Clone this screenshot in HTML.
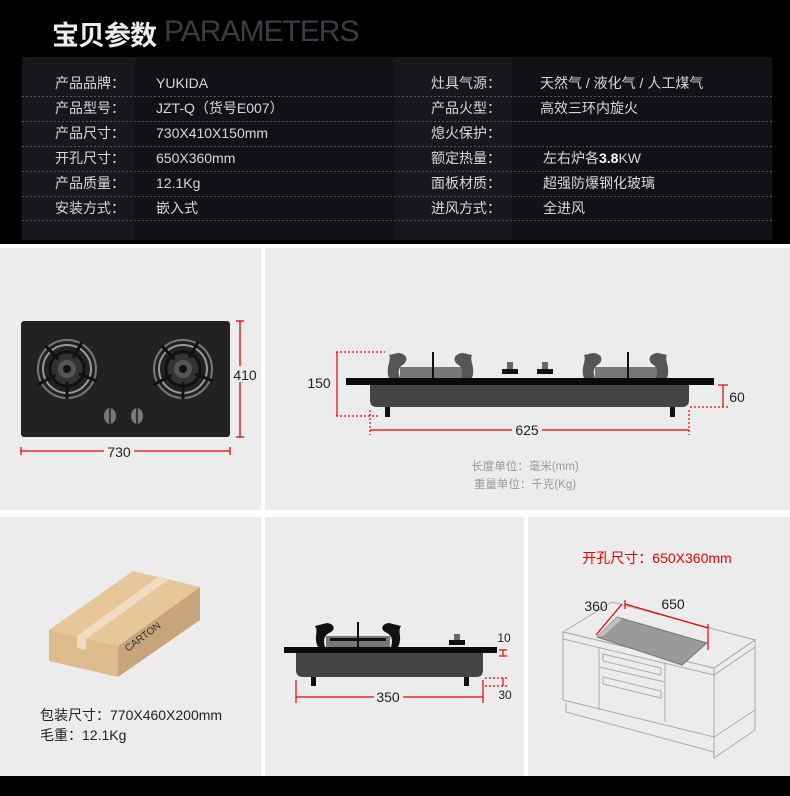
<!DOCTYPE html>
<html><head><meta charset="utf-8"><style>
*{margin:0;padding:0;box-sizing:border-box}
body{width:790px;height:796px;background:#fff;position:relative;overflow:hidden;font-family:"Liberation Sans","Noto Sans CJK SC",sans-serif}
.a{position:absolute}
.t{position:absolute;font-size:14px;color:#d8d8d8;white-space:nowrap;line-height:16px}
</style></head><body>
<div class="a" style="left:0;top:0;width:790px;height:244px;background:#000"></div>
<div class="a" style="left:52px;top:14px;font-size:27px;font-weight:bold;color:#eee;letter-spacing:-1px">宝贝参数</div>
<div class="a" style="left:164px;top:15px;font-size:30px;color:#3a3d46;letter-spacing:-1px">PARAMETERS</div>
<div class="a" style="left:22px;top:57px;width:750px;height:183px;background:#16181e"></div>
<div class="a" style="left:135px;top:57px;width:260px;height:183px;background:#101217"></div>
<div class="a" style="left:512px;top:57px;width:260px;height:183px;background:#101217"></div>
<svg class="a" style="left:0;top:0" width="790" height="244">
<g stroke="#555" stroke-dasharray="2,2" stroke-width="1">
<line x1="22" y1="96.5" x2="772" y2="96.5"/><line x1="22" y1="121.5" x2="772" y2="121.5"/><line x1="22" y1="146.5" x2="772" y2="146.5"/><line x1="22" y1="171.5" x2="772" y2="171.5"/><line x1="22" y1="196.5" x2="772" y2="196.5"/><line x1="22" y1="220.5" x2="772" y2="220.5"/>
</g></svg>
<div class="t" style="left:55px;top:75px">产品品牌：</div><div class="t" style="left:156px;top:75px">YUKIDA</div>
<div class="t" style="left:55px;top:100px">产品型号：</div><div class="t" style="left:156px;top:100px">JZT-Q（货号E007）</div>
<div class="t" style="left:55px;top:125px">产品尺寸：</div><div class="t" style="left:156px;top:125px">730X410X150mm</div>
<div class="t" style="left:55px;top:150px">开孔尺寸：</div><div class="t" style="left:156px;top:150px">650X360mm</div>
<div class="t" style="left:55px;top:175px">产品质量：</div><div class="t" style="left:156px;top:175px">12.1Kg</div>
<div class="t" style="left:55px;top:200px">安装方式：</div><div class="t" style="left:156px;top:200px">嵌入式</div>
<div class="t" style="left:431px;top:75px">灶具气源：</div><div class="t" style="left:540px;top:75px">天然气 /  液化气 / 人工煤气</div>
<div class="t" style="left:431px;top:100px">产品火型：</div><div class="t" style="left:540px;top:100px">高效三环内旋火</div>
<div class="t" style="left:431px;top:125px">熄火保护：</div>
<div class="t" style="left:431px;top:150px">额定热量：</div><div class="t" style="left:543px;top:150px">左右炉各<b style="color:#fff">3.8</b>KW</div>
<div class="t" style="left:431px;top:175px">面板材质：</div><div class="t" style="left:543px;top:175px">超强防爆钢化玻璃</div>
<div class="t" style="left:431px;top:200px">进风方式：</div><div class="t" style="left:543px;top:200px">全进风</div>

<div class="a" style="left:0;top:248px;width:261px;height:262px;background:#ececec"></div>
<div class="a" style="left:265px;top:248px;width:525px;height:262px;background:#ececec"></div>
<div class="a" style="left:0;top:517px;width:261px;height:259px;background:#ececec"></div>
<div class="a" style="left:265px;top:517px;width:259px;height:259px;background:#ececec"></div>
<div class="a" style="left:528px;top:517px;width:262px;height:259px;background:#ececec"></div>
<div class="a" style="left:0;top:776px;width:790px;height:20px;background:#000"></div>

<svg class="a" style="left:0;top:0" width="790" height="796" font-family="Liberation Sans, Noto Sans CJK SC, sans-serif">
<!-- top view -->
<rect x="21" y="321" width="209" height="116" rx="3" fill="#222"/>
<g id="b1">
<circle cx="67" cy="369" r="29" fill="none" stroke="#777" stroke-width="2"/>
<circle cx="67" cy="369" r="24" fill="none" stroke="#999" stroke-width="2"/>
<circle cx="67" cy="369" r="17" fill="#333" stroke="#111" stroke-width="3"/>
<circle cx="67" cy="369" r="11" fill="#555"/>
<circle cx="67" cy="369" r="4" fill="#111"/>
<g stroke="#111" stroke-width="3"><line x1="67" y1="369" x2="46" y2="346"/><line x1="67" y1="369" x2="82" y2="342"/><line x1="67" y1="369" x2="97" y2="381"/><line x1="67" y1="369" x2="37" y2="385"/><line x1="67" y1="369" x2="67" y2="399"/></g>
<circle cx="67" cy="369" r="13" fill="#333"/><circle cx="67" cy="369" r="9" fill="#555"/><circle cx="67" cy="369" r="4" fill="#111"/>
</g>
<use href="#b1" x="116"/>
<ellipse cx="110" cy="416" rx="6" ry="8" fill="#777"/><rect x="109" y="408" width="2" height="16" fill="#333"/>
<ellipse cx="137" cy="416" rx="6" ry="8" fill="#777"/><rect x="136" y="408" width="2" height="16" fill="#333"/>
<g stroke="#e00" stroke-width="1.3">
<line x1="240" y1="321" x2="240" y2="437"/><line x1="236" y1="321" x2="244" y2="321"/><line x1="236" y1="437" x2="244" y2="437"/>
<line x1="21" y1="451" x2="104" y2="451"/><line x1="134" y1="451" x2="230" y2="451"/><line x1="21" y1="447" x2="21" y2="455"/><line x1="230" y1="447" x2="230" y2="455"/>
</g>
<rect x="232" y="366" width="24" height="16" fill="#ececec"/>
<text x="245" y="380" font-size="14" text-anchor="middle" fill="#222">410</text>
<text x="119" y="457" font-size="14" text-anchor="middle" fill="#222">730</text>

<!-- side view -->
<path d="M370 385 H689 V400 Q689 407 682 407 H377 Q370 407 370 400Z" fill="#444"/>
<rect x="385" y="407" width="5" height="10" fill="#111"/><rect x="670" y="407" width="5" height="10" fill="#111"/>
<rect x="400" y="367" width="64" height="11" fill="#777"/><rect x="595" y="367" width="64" height="11" fill="#777"/>
<g fill="#555">
<path d="M389 378 C385 368 392 360 389 355 L398 353 C404 353 410 358 404 364 C400 366 397 370 400 378Z"/>
<path d="M472 378 C476 368 469 360 472 355 L463 353 C457 353 451 358 457 364 C461 366 464 370 461 378Z"/>
<path d="M584 378 C580 368 587 360 584 355 L593 353 C599 353 605 358 599 364 C595 366 592 370 595 378Z"/>
<path d="M667 378 C671 368 664 360 667 355 L658 353 C652 353 646 358 652 364 C656 366 659 370 656 378Z"/>
</g>
<rect x="432" y="352" width="2" height="26" fill="#111"/><rect x="627" y="352" width="2" height="26" fill="#111"/>
<rect x="502" y="369" width="16" height="5" fill="#111"/><rect x="507" y="362" width="6" height="7" fill="#666"/>
<rect x="537" y="369" width="16" height="5" fill="#111"/><rect x="542" y="362" width="6" height="7" fill="#666"/>
<rect x="346" y="378" width="368" height="7" fill="#0a0a0a"/>
<g stroke="#e00" stroke-width="1.2">
<line x1="337" y1="352" x2="337" y2="416"/><line x1="336" y1="352" x2="385" y2="352" stroke-dasharray="2,2"/><line x1="336" y1="416" x2="380" y2="416" stroke-dasharray="2,2"/>
<line x1="723" y1="385" x2="723" y2="407"/><line x1="718" y1="385" x2="728" y2="385"/><line x1="690" y1="407" x2="728" y2="407" stroke-dasharray="2,2"/>
<line x1="370" y1="410" x2="370" y2="435" stroke-dasharray="2,2"/><line x1="689" y1="410" x2="689" y2="435" stroke-dasharray="2,2"/>
<line x1="370" y1="430" x2="512" y2="430"/><line x1="542" y1="430" x2="689" y2="430"/>
</g>
<text x="319" y="388" font-size="14" text-anchor="middle" fill="#222">150</text>
<text x="737" y="402" font-size="14" text-anchor="middle" fill="#222">60</text>
<text x="527" y="435" font-size="14" text-anchor="middle" fill="#222">625</text>
<text x="525" y="470" font-size="11.5" text-anchor="middle" fill="#999">长度单位：毫米(mm)</text>
<text x="525" y="488" font-size="11.5" text-anchor="middle" fill="#999">重量单位：千克(Kg)</text>

<!-- carton -->
<polygon points="49,630 133,571 200,587 118,646" fill="#e7c79a"/>
<polygon points="49,630 118,646 118,677 49,661" fill="#ddbb8c"/>
<polygon points="118,646 200,587 200,620 118,677" fill="#c7a57a"/>
<polygon points="77,636 158,577 168,580 86,639" fill="#f0dcc0"/>
<polygon points="77,636 86,639 86,650 77,648" fill="#eedbc0"/>
<text x="0" y="0" font-size="10" fill="#333" transform="translate(128,652) rotate(-37)">CARTON</text>
<text x="40" y="720" font-size="14" fill="#222">包装尺寸：770X460X200mm</text>
<text x="40" y="740" font-size="14" fill="#222">毛重：12.1Kg</text>

<!-- small side view -->
<path d="M296 652 H483 V670 Q483 677 476 677 H303 Q296 677 296 670Z" fill="#444"/>
<rect x="311" y="677" width="5" height="9" fill="#111"/><rect x="464" y="677" width="5" height="9" fill="#111"/>
<rect x="326" y="636" width="64" height="11" fill="#777"/><rect x="330" y="638" width="56" height="3" fill="#111"/>
<rect x="357" y="622" width="2" height="25" fill="#111"/>
<path d="M318 647 C313 637 319 632 315 626 L327 623 C335 624 336 630 329 633 C324 636 323 640 325 647Z" fill="#111"/>
<path d="M398 647 C403 637 397 632 401 626 L389 623 C381 624 380 630 387 633 C392 636 393 640 391 647Z" fill="#111"/>
<rect x="449" y="640" width="16" height="5" fill="#111"/><rect x="454" y="634" width="6" height="6" fill="#666"/>
<rect x="284" y="647" width="213" height="6" fill="#0a0a0a"/>
<g stroke="#e00" stroke-width="1.2">
<line x1="503" y1="650" x2="503" y2="656"/><line x1="499" y1="650" x2="507" y2="650"/><line x1="499" y1="656" x2="507" y2="656"/>
<line x1="503" y1="678" x2="503" y2="686"/><line x1="485" y1="678" x2="507" y2="678" stroke-dasharray="2,2"/><line x1="485" y1="686" x2="507" y2="686" stroke-dasharray="2,2"/>
<line x1="296" y1="680" x2="296" y2="703"/><line x1="483" y1="680" x2="483" y2="703"/>
<line x1="296" y1="697" x2="374" y2="697"/><line x1="403" y1="697" x2="483" y2="697"/>
</g>
<text x="504" y="642" font-size="12" text-anchor="middle" fill="#222">10</text>
<text x="505" y="699" font-size="12" text-anchor="middle" fill="#222">30</text>
<text x="388" y="702" font-size="14" text-anchor="middle" fill="#222">350</text>

<!-- cabinet -->
<text x="657" y="563" font-size="14" text-anchor="middle" fill="#e00">开孔尺寸：650X360mm</text>
<g fill="none" stroke="#aaa" stroke-width="1">
<polygon points="563,632 612,602 755,640 714,668"/>
<polygon points="563,632 714,668 714,675 563,639"/>
<polygon points="714,668 755,640 755,647 714,675"/>
<line x1="563" y1="639" x2="563" y2="700"/><line x1="714" y1="675" x2="714" y2="758"/><line x1="755" y1="647" x2="755" y2="730"/>
<polyline points="563,700 714,737 755,710"/><polyline points="566,703 566,712 714,752 714,758 755,730"/>
<line x1="599" y1="648" x2="599" y2="710"/><line x1="665" y1="662" x2="665" y2="722"/>
<polygon points="603,654 661,668 661,675 603,661"/><polygon points="603,677 661,691 661,698 603,684"/>
<line x1="599" y1="667" x2="665" y2="682"/>
</g>
<polygon points="597,637 617,617 707,643 682,665" fill="#9a9a9a" stroke="#777"/>
<polygon points="597,637 617,617 622,619 603,636" fill="#c0c0c0"/>
<g stroke="#e00" stroke-width="1.2">
<line x1="596" y1="635" x2="622" y2="604"/><line x1="625" y1="604" x2="708" y2="628"/>
<line x1="625" y1="600" x2="625" y2="609"/><line x1="708" y1="624" x2="708" y2="650"/>
</g>
<text x="596" y="611" font-size="14" text-anchor="middle" fill="#222">360</text>
<text x="673" y="609" font-size="14" text-anchor="middle" fill="#222">650</text>
</svg>
</body></html>
